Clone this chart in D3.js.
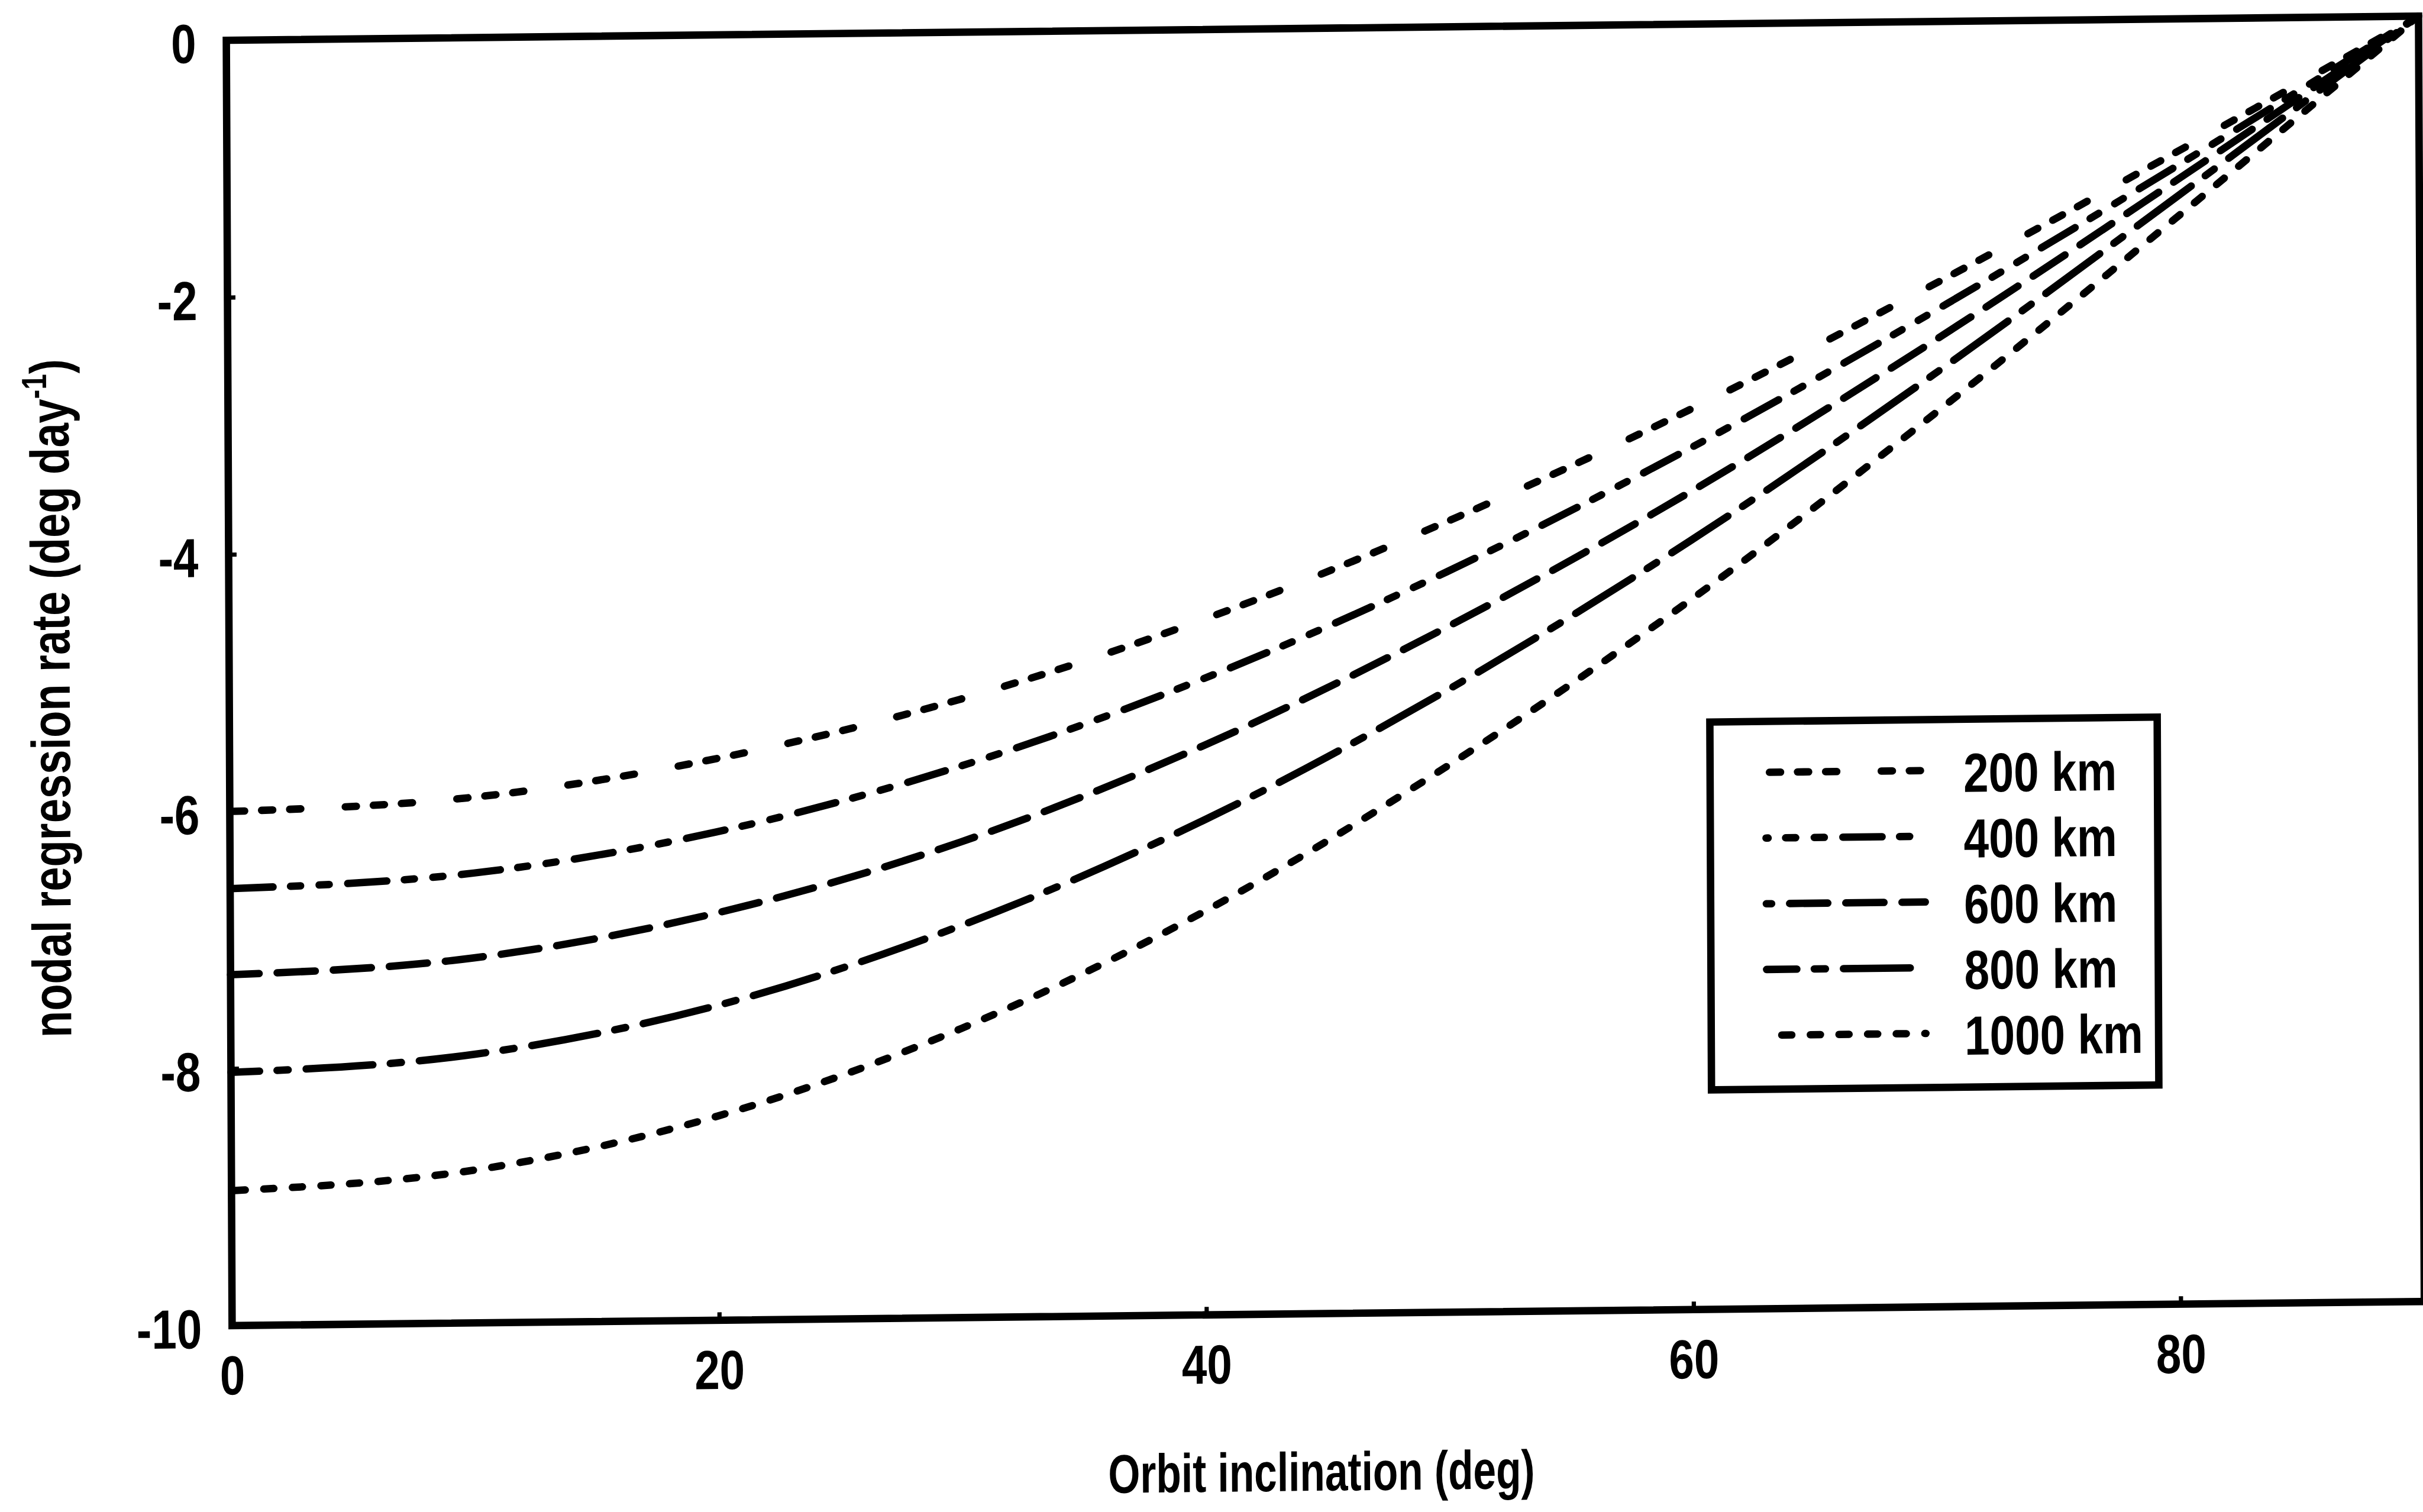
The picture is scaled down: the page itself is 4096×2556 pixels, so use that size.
<!DOCTYPE html>
<html>
<head>
<meta charset="utf-8">
<script src="https://cdn.jsdelivr.net/npm/d3@7"></script>
<style>
  html, body { margin: 0; padding: 0; background: #fff; }
  svg { display: block; }
  text { font-family: "Liberation Sans", Arial, sans-serif; font-weight: bold; fill: #000; }
</style>
</head>
<body>
<svg id="chart" width="4096" height="2556"></svg>
<script>
// Orbit inclination (deg) at which each curve is sampled
const inclination = [0, 10, 20, 30, 40, 50, 60, 70, 80, 90];

// Nodal regression rate (deg/day) for each altitude
const rate200km  = [-6.00, -5.91, -5.63, -5.19, -4.59, -3.85, -3.00, -2.05, -1.04, 0];
const rate400km  = [-6.60, -6.50, -6.20, -5.71, -5.05, -4.24, -3.30, -2.26, -1.15, 0];
const rate600km  = [-7.27, -7.16, -6.83, -6.30, -5.57, -4.67, -3.64, -2.49, -1.26, 0];
const rate800km  = [-8.03, -7.91, -7.55, -6.95, -6.15, -5.16, -4.02, -2.75, -1.39, 0];
const rate1000km = [-8.95, -8.81, -8.41, -7.75, -6.86, -5.75, -4.48, -3.06, -1.55, 0];

const altitudeLabels = ["200 km", "400 km", "600 km", "800 km", "1000 km"];
const xTickValues = [0, 20, 40, 60, 80];
const yTickValues = [0, -2, -4, -6, -8, -10];
const xTitle = "Orbit inclination (deg)";
const yTitle = "nodal regression rate (deg day";
const yTitleSup = "-1";

const seriesValues = [rate200km, rate400km, rate600km, rate800km, rate1000km];

// ---- drawing styles (dash patterns in drawing units) ----
const lineStyles = [
  { dash: [35, 18, 35, 18, 35, 70],  offset: 0,  legendOffset: 0 },
  { dash: [88, 19, 33, 21, 33, 21],  offset: 0,  legendOffset: 77 },
  { dash: [86, 20],                  offset: 25, legendOffset: 69 },
  { dash: [140, 19, 35, 20],         offset: 79, legendOffset: 76 },
  { dash: [33, 21],                  offset: 0,  legendOffset: 33 }
];

const S = 0.896;                       // overall drawing scale
const FRAME = { left: 427, top: 76, right: 4563, bottom: 2501 };
const SKEW_Y = -0.011, SKEW_X = 0.0045; // slight slant of the whole sheet
const FONT = 104;
const CURVE_W = 14;
const CONDENSE = 0.82;

const svg = d3.select("#chart");
const root = svg.append("g").attr("transform", `scale(${S})`);
const g = root.append("g").attr("transform",
  `matrix(1,${SKEW_Y},${SKEW_X},1,${-SKEW_X * FRAME.top},${-SKEW_Y * FRAME.left})`);

const x = d3.scaleLinear().domain([0, 90]).range([FRAME.left, FRAME.right]);
const y = d3.scaleLinear().domain([-10, 0]).range([FRAME.bottom, FRAME.top]);

// dash pattern adjusted for round caps so the visible dashes keep their length
function roundCapDash(dash) {
  return dash.map((v, i) => i % 2 === 0 ? Math.max(v - CURVE_W, 0.5) : v + CURVE_W).join(",");
}

// ---- curves ----
const line = d3.line()
  .x((d, i) => x(inclination[i]))
  .y(d => y(d))
  .curve(d3.curveMonotoneX);

g.append("g").attr("class", "curves")
  .selectAll("path")
  .data(seriesValues)
  .join("path")
  .attr("d", d => line(d))
  .attr("fill", "none")
  .attr("stroke", "#000")
  .attr("stroke-width", CURVE_W)
  .attr("stroke-linecap", "round")
  .attr("stroke-dasharray", (d, i) => roundCapDash(lineStyles[i].dash))
  .attr("stroke-dashoffset", (d, i) => lineStyles[i].offset - CURVE_W / 2);

// ---- axes ----
const xAxis = d3.axisBottom(x)
  .tickValues(xTickValues)
  .tickSizeInner(-15).tickSizeOuter(0)
  .tickPadding(56)
  .tickFormat(d => String(d));

const yAxis = d3.axisLeft(y)
  .tickValues(yTickValues)
  .tickSizeInner(-15).tickSizeOuter(0)
  .tickPadding(57)
  .tickFormat(d => String(d));

const gx = g.append("g").attr("transform", `translate(0,${FRAME.bottom})`).call(xAxis);
const gy = g.append("g").attr("transform", `translate(${FRAME.left},0)`).call(yAxis);

[gx, gy].forEach(a => {
  a.select(".domain").remove();
  a.selectAll(".tick line").attr("stroke", "#000").attr("stroke-width", 8);
  a.selectAll(".tick text")
    .attr("class", "cond")
    .style("font-size", FONT + "px")
    .style("font-family", "'Liberation Sans', Arial, sans-serif")
    .style("font-weight", "bold")
    .attr("fill", "#000");
  a.attr("font-family", null).attr("font-size", null);
});
gy.selectAll(".tick text").attr("dy", "0.4em");

// frame
g.append("rect")
  .attr("x", FRAME.left).attr("y", FRAME.top)
  .attr("width", FRAME.right - FRAME.left)
  .attr("height", FRAME.bottom - FRAME.top)
  .attr("fill", "none").attr("stroke", "#000").attr("stroke-width", 14);

// ---- axis titles ----
const xt = g.append("text")
  .attr("text-anchor", "middle")
  .style("font-size", (FONT - 1) + "px")
  .text(xTitle);
{
  const w = xt.node().getBBox().width;
  xt.attr("transform", `translate(2481,2835) scale(${805 / w},1)`);
}

const yt = g.append("text")
  .attr("text-anchor", "middle")
  .style("font-size", (FONT - 1) + "px");
yt.append("tspan").text(yTitle);
yt.append("tspan").attr("dy", -42).style("font-size", "66px").text(yTitleSup);
yt.append("tspan").attr("dy", 42).text(")");
{
  const w = yt.node().getBBox().width;
  yt.attr("transform", `translate(126,1314) rotate(-90) scale(${1280 / w},1)`);
}

// ---- legend ----
const LEG = { x: 3220, y: 1393, w: 844, h: 694, lineX1: 3325, lineX2: 3625, textX: 3698, row0: 1489, rowStep: 124 };
const legend = g.append("g").attr("class", "legend");
legend.append("rect")
  .attr("x", LEG.x).attr("y", LEG.y).attr("width", LEG.w).attr("height", LEG.h)
  .attr("fill", "#fff").attr("stroke", "#000").attr("stroke-width", 14);

const rows = legend.selectAll("g.row")
  .data(altitudeLabels)
  .join("g").attr("class", "row")
  .attr("transform", (d, i) => `translate(0,${LEG.row0 + i * LEG.rowStep})`);

rows.append("line")
  .attr("x1", LEG.lineX1).attr("x2", LEG.lineX2)
  .attr("stroke", "#000").attr("stroke-width", CURVE_W)
  .attr("stroke-linecap", "round")
  .attr("stroke-dasharray", (d, i) => roundCapDash(lineStyles[i].dash))
  .attr("stroke-dashoffset", (d, i) => lineStyles[i].legendOffset - CURVE_W / 2);

rows.append("text")
  .attr("class", "cond")
  .attr("x", LEG.textX).attr("y", 41)
  .style("font-size", FONT + "px")
  .text(d => d);

// condensed lettering for ticks and legend
svg.selectAll("text.cond").each(function () {
  const w = this.getComputedTextLength();
  this.setAttribute("textLength", (w * CONDENSE).toFixed(1));
  this.setAttribute("lengthAdjust", "spacingAndGlyphs");
});
</script>
</body>
</html>
